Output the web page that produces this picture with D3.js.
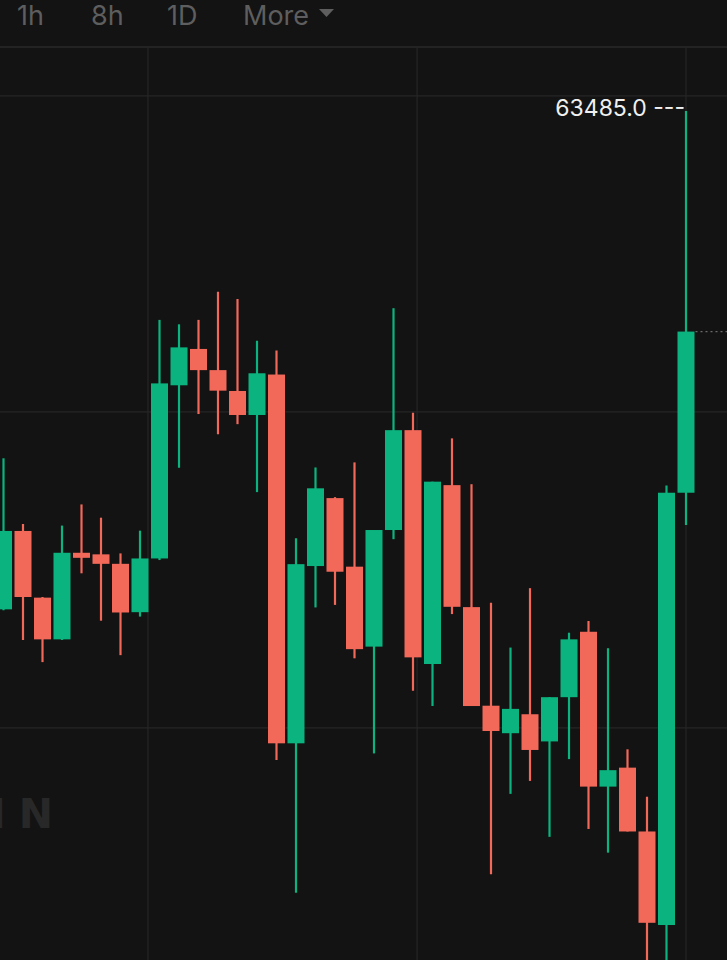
<!DOCTYPE html>
<html>
<head>
<meta charset="utf-8">
<script src="https://cdn.jsdelivr.net/npm/d3@7"></script>
<style>
  html, body { margin: 0; padding: 0; background: #131313; overflow: hidden; }
  svg { display: block; }
</style>
</head>
<body>
<svg id="chart" width="727" height="960"></svg>
<script>
// ---- data ----
const intervals = ["1h", "8h", "1D", "More"];
const opens  = [62696.5,62820.5,62715,62649,62786,62783.5,62768.5,62692,62777,63051,63108.5,63075,63042,63004,63068,62484.5,62765,62872.5,62764,62637.5,62822,62980,62610,62893,62700,62544,62500.5,62530.5,62487.5,62557.5,62661,62416,62446,62345,62197,62881];
const highs  = [62935.5,62831.5,62716,62829,62862.5,62841.5,62785,62821,63154.5,63147.5,63154.5,63199,63187.5,63121.5,63106,62809,62921,62874,62929,62822,63173,63007.5,62898.5,62967,62894.5,62707,62636,62730,62557.5,62659.5,62678,62635,62475,62400,62892.5,63485];
const lows   = [62695,62648,62613,62648,62753.5,62678.5,62624,62685,62774.5,62920.5,63005.5,62973.5,62989.5,62882,62458,62248,62699.5,62703.5,62619,62468.5,62807.5,62567.5,62543.5,62689,62543.5,62277.5,62404.5,62425,62336.5,62459.5,62349,62311.5,62345,62118,62102,62830];
const closes = [62820.5,62716,62649,62786,62778,62768.5,62691.5,62777,63054,63111,63075,63042.5,63004,63070,62484.5,62768,62888,62756,62633.5,62822,62980,62620.5,62898.5,62700.5,62543.5,62504,62539,62474,62557.5,62649,62416,62442,62345,62200.5,62881,63136];
const gridPrices = [63509, 63009, 62509];
const gridIndex = [7.41, 21.21, 35];
const highLabel = "63485.0";
const watermark = "COIN";

// ---- layout ----
const W = 727, H = 960, headerH = 47;
const UP = "#0bb47e", DOWN = "#f2695a";
const svg = d3.select("#chart");

const x = d3.scaleLinear().domain([0, 35]).range([3.5, 686]);
const y = d3.scaleLinear().domain([62000, 63600]).range([111 + 1485 * 0.632, 111 - 115 * 0.632]);

svg.append("rect").attr("width", W).attr("height", H).attr("fill", "#131313");

// header
const hdr = svg.append("g");
const hx = [17, 91, 167, 243];
hdr.selectAll("text").data(intervals).join("text")
  .attr("x", (d, i) => hx[i]).attr("y", 25)
  .attr("fill", "#5e5e5e")
  .attr("font-family", "Inter, 'Noto Sans', sans-serif")
  .attr("font-size", 27)
  .text(d => d);
hdr.append("path").attr("d", "M319,9 L334,9 L326.5,17 Z").attr("fill", "#5e5e5e");
svg.append("line").attr("x1", 0).attr("x2", W).attr("y1", headerH).attr("y2", headerH)
  .attr("stroke", "#2a2a2a").attr("stroke-width", 1.5);

// grid
const grid = svg.append("g");
grid.selectAll("line.h").data(gridPrices).join("line").attr("class", "h")
  .attr("x1", 0).attr("x2", W).attr("y1", d => y(d)).attr("y2", d => y(d))
  .attr("stroke", "#262626").attr("stroke-width", 1.2);
grid.selectAll("line.v").data(gridIndex).join("line").attr("class", "v")
  .attr("x1", d => x(d)).attr("x2", d => x(d)).attr("y1", headerH).attr("y2", H)
  .attr("stroke", "#262626").attr("stroke-width", 1.2);

// watermark
svg.append("text").attr("x", 66).attr("y", 828).attr("text-anchor", "end")
  .attr("fill", "#282828").attr("font-family", "'DejaVu Sans', sans-serif")
  .attr("font-weight", "bold").attr("font-size", 41).attr("letter-spacing", 13)
  .text(watermark);

// candles
const candles = opens.map((o, i) => ({ i, o, h: highs[i], l: lows[i], c: closes[i] }));
const bodyW = 17;
const g = svg.append("g").attr("clip-path", "url(#clip)");
svg.append("clipPath").attr("id", "clip").append("rect")
  .attr("x", 0).attr("y", headerH + 1).attr("width", W).attr("height", H - headerH);
const cg = g.selectAll("g.c").data(candles).join("g").attr("class", "c");
cg.append("line")
  .attr("x1", d => x(d.i)).attr("x2", d => x(d.i))
  .attr("y1", d => y(d.h)).attr("y2", d => y(d.l))
  .attr("stroke", d => d.c >= d.o ? UP : DOWN).attr("stroke-width", 2.2);
cg.append("rect")
  .attr("x", d => x(d.i) - bodyW / 2).attr("width", bodyW)
  .attr("y", d => y(Math.max(d.o, d.c)))
  .attr("height", d => Math.max(1.5, Math.abs(y(d.o) - y(d.c))))
  .attr("fill", d => d.c >= d.o ? UP : DOWN);

// last price dotted line
const last = candles[candles.length - 1];
svg.append("line").attr("x1", x(last.i) + bodyW / 2 + 1).attr("x2", W)
  .attr("y1", y(last.c)).attr("y2", y(last.c))
  .attr("stroke", "#6a6a6a").attr("stroke-width", 1.2).attr("stroke-dasharray", "2,3");

// high label
const maxH = d3.max(highs);
svg.append("text").attr("x", x(last.i) - 1).attr("y", y(maxH) + 5)
  .attr("text-anchor", "end").attr("fill", "#f0f0f0")
  .attr("font-family", "Inter, 'Noto Sans', sans-serif").attr("font-size", 23)
  .text(highLabel + " ---");
</script>
</body>
</html>
